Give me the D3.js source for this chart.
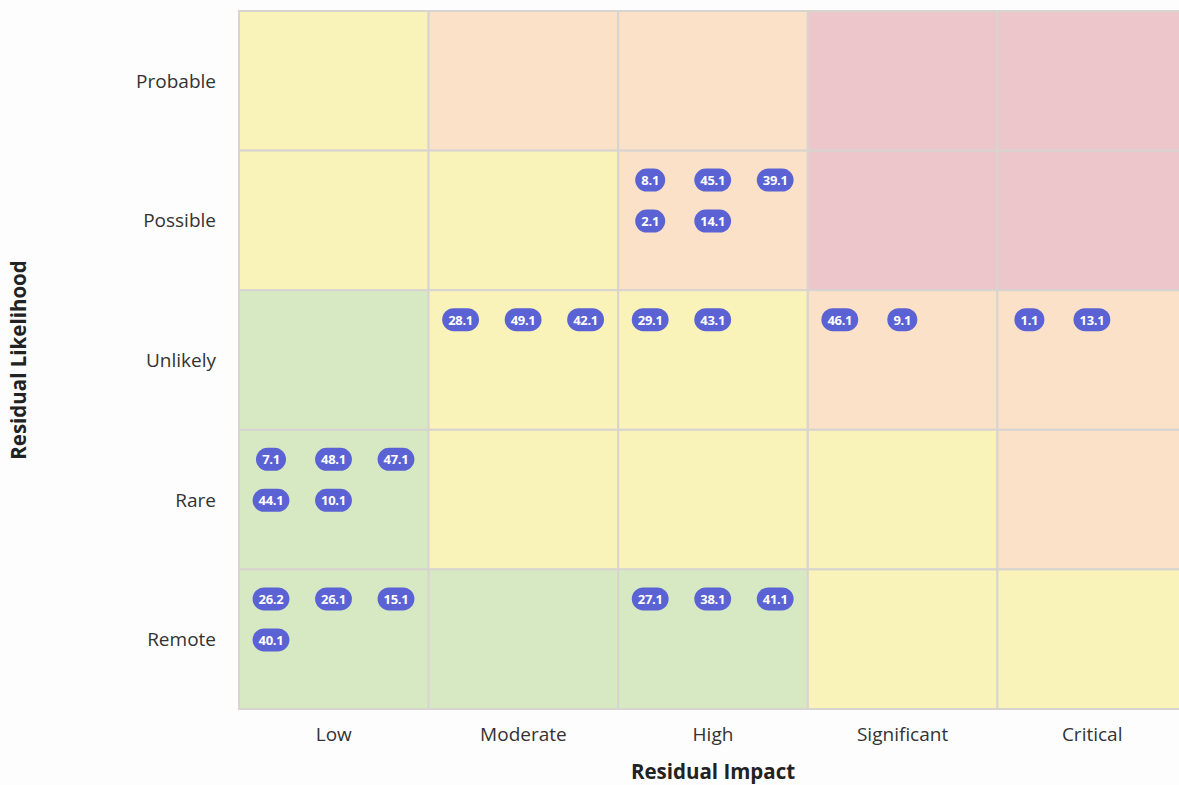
<!DOCTYPE html>
<html>
<head>
<meta charset="utf-8">
<script src="https://cdn.jsdelivr.net/npm/d3@7"></script>
<style>
  body { margin: 0; background: #fdfdfd; font-family: "Open Sans", Lato, sans-serif; }
  svg { display: block; }
  .tick-label { font-size: 19px; fill: #333; }
  .axis-title { font-size: 20.5px; font-weight: bold; fill: #222; }
  .badge text { font-size: 13px; font-weight: bold; fill: #fff; letter-spacing: -0.3px; }
</style>
</head>
<body>
<script>
// categories
var impacts = ["Low", "Moderate", "High", "Significant", "Critical"];
var likelihoods = ["Probable", "Possible", "Unlikely", "Rare", "Remote"];

// cell colour levels, row by row (Probable -> Remote), col Low -> Critical
var levels = [
    ["med", "high", "high", "extreme", "extreme"],
    ["med", "med", "high", "extreme", "extreme"],
    ["low", "med", "med", "high", "high"],
    ["low", "med", "med", "med", "high"],
    ["low", "low", "low", "med", "med"]
];

// risks sitting in each cell
var risks = [
    {likelihood: "Possible", impact: "High", ids: ["8.1", "45.1", "39.1", "2.1", "14.1"]},
    {likelihood: "Unlikely", impact: "Moderate", ids: ["28.1", "49.1", "42.1"]},
    {likelihood: "Unlikely", impact: "High", ids: ["29.1", "43.1"]},
    {likelihood: "Unlikely", impact: "Significant", ids: ["46.1", "9.1"]},
    {likelihood: "Unlikely", impact: "Critical", ids: ["1.1", "13.1"]},
    {likelihood: "Rare", impact: "Low", ids: ["7.1", "48.1", "47.1", "44.1", "10.1"]},
    {likelihood: "Remote", impact: "Low", ids: ["26.2", "26.1", "15.1", "40.1"]},
    {likelihood: "Remote", impact: "High", ids: ["27.1", "38.1", "41.1"]}
];

var colors = {low: "#d7e9c3", med: "#f9f2b9", high: "#fae1c7", extreme: "#ecc6cb"};

var W = 1179, H = 785;
var svg = d3.select("body").append("svg").attr("width", W).attr("height", H);

var x = d3.scaleBand().domain(impacts).range([239, 1187]);
var y = d3.scaleBand().domain(likelihoods).range([11, 709]);

var cells = [];
likelihoods.forEach(function(l, i) {
    impacts.forEach(function(im, j) {
        cells.push({likelihood: l, impact: im, level: levels[i][j]});
    });
});

var g = svg.append("g");
g.selectAll("rect.cell")
    .data(cells)
    .enter()
    .append("rect")
    .attr("class", "cell")
    .attr("x", function(d) { return x(d.impact); })
    .attr("y", function(d) { return y(d.likelihood); })
    .attr("width", x.bandwidth())
    .attr("height", y.bandwidth())
    .attr("fill", function(d) { return colors[d.level]; })
    .attr("stroke", "#d8d4d0")
    .attr("stroke-width", 2);

// y labels
svg.selectAll("text.ylab")
    .data(likelihoods)
    .enter()
    .append("text")
    .attr("class", "tick-label ylab")
    .attr("x", 216)
    .attr("y", function(d) { return y(d) + y.bandwidth() / 2; })
    .attr("text-anchor", "end")
    .attr("dominant-baseline", "central")
    .text(function(d) { return d; });

// x labels
svg.selectAll("text.xlab")
    .data(impacts)
    .enter()
    .append("text")
    .attr("class", "tick-label xlab")
    .attr("x", function(d) { return x(d) + x.bandwidth() / 2; })
    .attr("y", 734)
    .attr("text-anchor", "middle")
    .attr("dominant-baseline", "central")
    .text(function(d) { return d; });

svg.append("text")
    .attr("class", "axis-title")
    .attr("x", 713)
    .attr("y", 771)
    .attr("text-anchor", "middle")
    .attr("dominant-baseline", "central")
    .text("Residual Impact");

svg.append("text")
    .attr("class", "axis-title")
    .attr("transform", "translate(18,360) rotate(-90)")
    .attr("text-anchor", "middle")
    .attr("dominant-baseline", "central")
    .text("Residual Likelihood");

// badges: 3 per row inside a cell
var badges = [];
risks.forEach(function(r) {
    r.ids.forEach(function(id, k) {
        badges.push({id: id, likelihood: r.likelihood, impact: r.impact, col: k % 3, row: Math.floor(k / 3)});
    });
});

var slotX = d3.scaleLinear().domain([0, 2]).range([32, 157]);
var slotY = d3.scaleLinear().domain([0, 1]).range([29.5, 70.5]);

var b = svg.selectAll("g.badge")
    .data(badges)
    .enter()
    .append("g")
    .attr("class", "badge")
    .attr("transform", function(d) {
        return "translate(" + (x(d.impact) + slotX(d.col)) + "," + (y(d.likelihood) + slotY(d.row)) + ")";
    });

b.append("text")
    .attr("text-anchor", "middle")
    .attr("dominant-baseline", "central")
    .text(function(d) { return d.id; });

b.each(function() {
    var node = d3.select(this);
    var w = node.select("text").node().getComputedTextLength() + 12;
    w = Math.max(w, 30);
    node.insert("rect", "text")
        .attr("x", -w / 2)
        .attr("y", -11.5)
        .attr("width", w)
        .attr("height", 23)
        .attr("rx", 11.5)
        .attr("fill", "#5a62d4");
});
</script>
</body>
</html>
